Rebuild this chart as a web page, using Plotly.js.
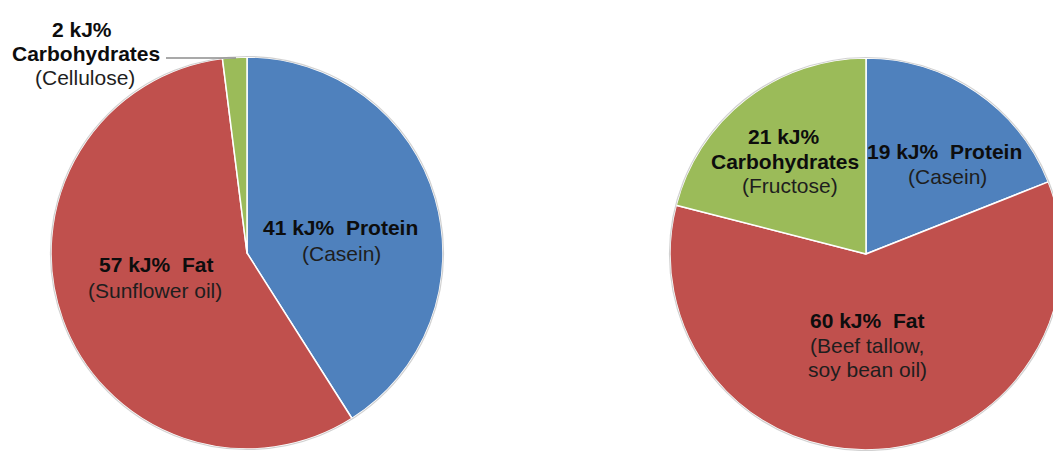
<!DOCTYPE html>
<html>
<head>
<meta charset="utf-8">
<script src="https://cdn.plot.ly/plotly-3.0.1.min.js"></script>
<style>
  html, body { margin: 0; padding: 0; overflow: hidden; background: #ffffff; }
  #chart { width: 1080px; height: 451px; }
</style>
</head>
<body>
<div id="chart"></div>
<script>
// Diet composition (energy share, kJ%)
const categories = ['Protein', 'Fat', 'Carbohydrates'];
const leftValues = [41, 57, 2];
const rightValues = [19, 60, 21];
const leftSources = [['(Casein)'], ['(Sunflower oil)'], ['(Cellulose)']];
const rightSources = [['(Casein)'], ['(Beef tallow,', 'soy bean oil)'], ['(Fructose)']];
const sliceColors = ['#4F81BD', '#C0504D', '#9BBB59'];

// Figure geometry in pixels
const W = 1080, H = 451;
const R = 196;
const pies = [
  { cx: 247, cy: 253, values: leftValues, sources: leftSources },
  { cx: 866, cy: 254, values: rightValues, sources: rightSources }
];

const px = x => x / W;
const py = y => 1 - y / H;

// Label line anchor points (pixel centres) for each pie / slice
const labelSpots = [
  [
    { head: [[340, 227]], sub: [[341, 253]] },
    { head: [[156, 264]], sub: [[155, 290]] },
    { head: [[82, 29], [86, 53]], sub: [[85, 77]] }
  ],
  [
    { head: [[944, 151]], sub: [[947, 176]] },
    { head: [[867, 320]], sub: [[867, 345], [867, 369]] },
    { head: [[784, 137], [785, 161.5]], sub: [[790, 186]] }
  ]
];

function headLines(name, v) {
  if (name === 'Carbohydrates') return [v + ' kJ%', name];
  return [v + ' kJ%\u00a0 ' + name];
}

const traces = pies.map(p => ({
  type: 'pie',
  labels: categories,
  values: p.values,
  sort: false,
  direction: 'clockwise',
  rotation: 0,
  textinfo: 'none',
  hoverinfo: 'skip',
  marker: { colors: sliceColors, line: { color: '#ffffff', width: 1.5 } },
  domain: {
    x: [px(p.cx - R), px(p.cx + R)],
    y: [py(p.cy + R), py(p.cy - R)]
  }
}));

const annotations = [];
pies.forEach((p, i) => {
  categories.forEach((name, j) => {
    const spot = labelSpots[i][j];
    headLines(name, p.values[j]).forEach((line, k) => {
      annotations.push({
        xref: 'paper', yref: 'paper',
        x: px(spot.head[k][0]), y: py(spot.head[k][1]),
        xanchor: 'center', yanchor: 'middle',
        text: '<b>' + line + '</b>', showarrow: false,
        font: { family: 'Liberation Sans, Arial, sans-serif', size: 21, color: '#0d0d0d' }
      });
    });
    p.sources[j].forEach((line, k) => {
      annotations.push({
        xref: 'paper', yref: 'paper',
        x: px(spot.sub[k][0]), y: py(spot.sub[k][1]),
        xanchor: 'center', yanchor: 'middle',
        text: line, showarrow: false,
        font: { family: 'Liberation Sans, Arial, sans-serif', size: 21, color: '#1e1e1e' }
      });
    });
  });
});

// Thin rim around each pie and the leader line for the small slice
const shapes = pies.map(p => ({
  type: 'circle', xref: 'paper', yref: 'paper',
  x0: px(p.cx - R - 0.5), x1: px(p.cx + R + 0.5),
  y0: py(p.cy + R + 0.5), y1: py(p.cy - R - 0.5),
  line: { color: 'rgba(190,190,190,0.7)', width: 1.2 }
}));
shapes.push({
  type: 'line', xref: 'paper', yref: 'paper',
  x0: px(166), x1: px(236), y0: py(58), y1: py(58),
  line: { color: '#8c8c8c', width: 1.3 }
});

const layout = {
  width: W, height: H,
  margin: { l: 0, r: 0, t: 0, b: 0 },
  paper_bgcolor: '#ffffff',
  showlegend: false,
  annotations: annotations,
  shapes: shapes
};

Plotly.newPlot('chart', traces, layout, { displayModeBar: false, staticPlot: true });
</script>
</body>
</html>
